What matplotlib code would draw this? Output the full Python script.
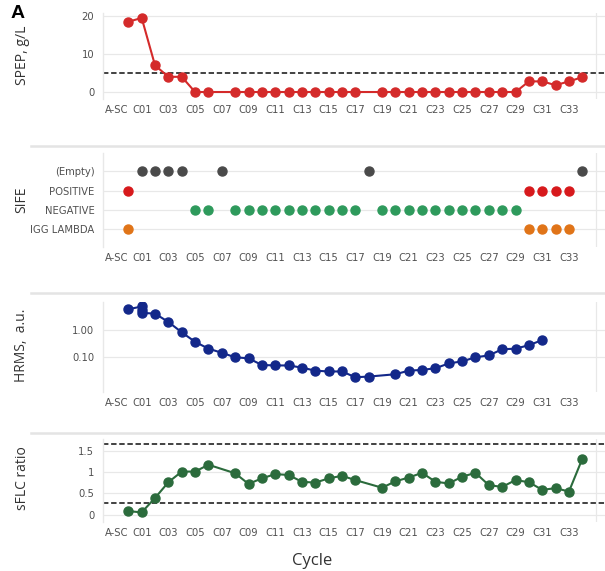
import numpy as np
import matplotlib
matplotlib.use("Agg")
import matplotlib.pyplot as plt
from matplotlib.lines import Line2D

nan = np.nan

cycles = ["A-SC"] + ["C%02d" % i for i in range(1, 35)]

# serum protein electrophoresis, g/L (nan = not measured)
spep = [18.5, 19.5, 7.0, 4.0, 4.0, 0, 0, nan,
        0, 0, 0, 0, 0, 0, 0, 0, 0, 0, nan,
        0, 0, 0, 0, 0, 0, 0, 0, 0, 0, 0,
        2.8, 2.8, 1.8, 2.8, 3.9]
spep_limit = 5

# immunofixation results
sife_levels = ["IGG LAMBDA", "NEGATIVE", "POSITIVE", "(Empty)"]
sife_empty = ["C01", "C02", "C03", "C04", "C07", "C18", "C34"]
sife_positive = ["A-SC", "C30", "C31", "C32", "C33"]
sife_negative = ["C05", "C06", "C08", "C09", "C10", "C11", "C12", "C13",
                 "C14", "C15", "C16", "C17", "C19", "C20", "C21", "C22",
                 "C23", "C24", "C25", "C26", "C27", "C28", "C29"]
sife_igg = ["A-SC", "C30", "C31", "C32", "C33"]

# mass spectrometry, arbitrary units
hrms_cycles = ["A-SC", "C01", "C01", "C01", "C02", "C03", "C04", "C05",
               "C06", "C07", "C08", "C09", "C10", "C11", "C12", "C13",
               "C14", "C15", "C16", "C17", "C18", "C20", "C21", "C22",
               "C23", "C24", "C25", "C26", "C27", "C28", "C29", "C30", "C31"]
hrms_values = [6.0, 7.6, 5.8, 4.4, 4.1, 2.0, 0.82, 0.36,
               0.20, 0.14, 0.095, 0.087, 0.049, 0.047, 0.047, 0.039,
               0.030, 0.028, 0.028, 0.017, 0.018, 0.022, 0.030, 0.032,
               0.037, 0.056, 0.067, 0.095, 0.112, 0.19, 0.20, 0.27, 0.42]

# serum free light chain ratio
sflc = [0.08, 0.05, 0.39, 0.76, 1.01, 1.01, 1.17, nan,
        0.97, 0.72, 0.85, 0.95, 0.93, 0.77, 0.75, 0.85, 0.91, 0.81, nan,
        0.63, 0.78, 0.87, 0.98, 0.77, 0.73, 0.89, 0.98, 0.69, 0.65, 0.81,
        0.76, 0.58, 0.62, 0.54, 1.31]
sflc_range = [0.26, 1.65]

W, H = 605, 571
fig = plt.figure(figsize=(W / 100, H / 100), dpi=100)

tick_font = dict(family=["DejaVu Sans"], stretch="condensed", size=8, color="#505050")
label_font = dict(family=["Open Sans", "DejaVu Sans"], size=10, color="#333333")
grid_col = "#e8e8e8"
pos = {c: i for i, c in enumerate(cycles)}
xs = np.arange(len(cycles))


def panel(top, bottom):
    ax = fig.add_axes([102.7 / W, (H - bottom) / H, (W - 102.7) / W, (bottom - top) / H])
    ax.set_xlim(-1.92, 35.7)
    for s in ["top", "right", "bottom"]:
        ax.spines[s].set_visible(False)
    ax.spines["left"].set_color(grid_col)
    ax.spines["left"].set_linewidth(1.0)
    shown = [0] + list(range(1, 35, 2))
    ax.set_xticks(shown)
    ax.set_xticklabels([cycles[i] for i in shown], **tick_font)
    ax.get_xticklabels()[0].set_horizontalalignment("right")
    ax.set_xticks(np.arange(1, 37, 2), minor=True)
    ax.tick_params(axis="both", which="both", length=0)
    ax.tick_params(axis="x", pad=4)
    ax.tick_params(axis="y", pad=6)
    ax.grid(True, axis="x", which="minor", color=grid_col, lw=0.9)
    ax.grid(True, axis="y", which="major", color=grid_col, lw=0.9)
    ax.set_axisbelow(True)
    return ax


def ylabel(text, y):
    fig.text(22 / W, 1 - y / H, text, rotation=90, ha="center", va="center", **label_font)


def line(ax, x, y, color):
    x = np.asarray(x, float)
    y = np.asarray(y, float)
    ok = ~np.isnan(y)
    ax.plot(x[ok], y[ok], "-o", color=color, lw=1.5, ms=6.5, zorder=3)


# SPEP
ax1 = panel(13, 99)
line(ax1, xs, spep, "#d42a2a")
ax1.axhline(spep_limit, color="#333333", ls=(0, (3, 1.5)), lw=1.3, zorder=2)
ax1.set_ylim(-1.84, 20.8)
ax1.set_yticks([0, 10, 20])
ax1.set_yticklabels(["0", "10", "20"], **tick_font)
ylabel("SPEP, g/L", 55)

# SIFE
ax2 = panel(153, 247)
groups = [(sife_empty, 3, "#4a4a4a"), (sife_positive, 2, "#d7191c"),
          (sife_negative, 1, "#2e9a5c"), (sife_igg, 0, "#e07418")]
for names, level, color in groups:
    ax2.plot([pos[n] for n in names], [level] * len(names), "o", color=color, ms=6.5,
             ls="none", zorder=3)
ax2.set_ylim(-0.94, 3.96)
ax2.set_yticks(range(4))
ax2.set_yticklabels(sife_levels, **tick_font)
ylabel("SIFE", 200)

# HRMS
ax3 = panel(302, 392)
line(ax3, [pos[c] for c in hrms_cycles], hrms_values, "#13288a")
ax3.set_yscale("log")
ax3.set_ylim(0.00476, 11.2)
ax3.set_yticks([0.1, 1])
ax3.set_yticks([], minor=True)
ax3.set_yticklabels(["0.10", "1.00"], **tick_font)
ylabel("HRMS,  a.u.", 345)

# sFLC ratio
ax4 = panel(439, 522)
line(ax4, xs, sflc, "#2b6b3c")
for v in sflc_range:
    ax4.axhline(v, color="#333333", ls=(0, (3, 1.5)), lw=1.3, zorder=2)
ax4.set_ylim(-0.176, 1.776)
ax4.set_yticks([0, 0.5, 1, 1.5])
ax4.set_yticklabels(["0", "0.5", "1", "1.5"], **tick_font)
ylabel("sFLC ratio", 478)

# separators between the panels
for y in [146, 293, 433]:
    fig.add_artist(Line2D([31 / W, 1], [1 - y / H] * 2, color="#e4e4e4", lw=1.8))

fig.text(18 / W, 1 - 14 / H, "A", ha="center", va="center", fontsize=14,
         fontweight="bold", family=["Liberation Sans", "DejaVu Sans"])
fig.text(312 / W, 1 - 561 / H, "Cycle", ha="center", va="center",
         family=["Open Sans", "DejaVu Sans"], size=12, color="#333333")

fig.savefig("out.png", dpi=100)
